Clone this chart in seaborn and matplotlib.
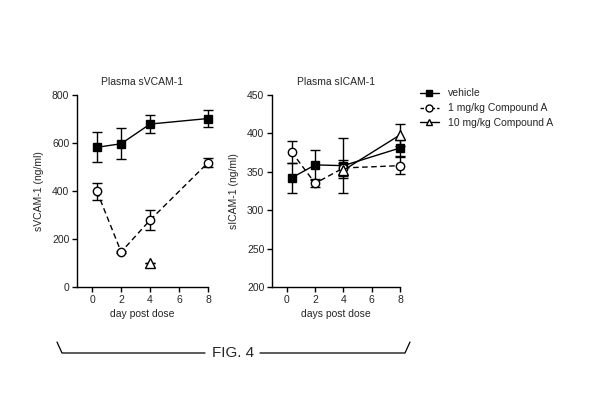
import numpy as np
import pandas as pd
import matplotlib
matplotlib.use("Agg")
import matplotlib.pyplot as plt
from matplotlib.lines import Line2D
import seaborn as sns

sns.set_theme(style="ticks")
plt.rcParams['font.family'] = ['Liberation Sans', 'DejaVu Sans']

days = [0.33, 2, 4, 8]
groups = ["vehicle", "1 mg/kg Compound A", "10 mg/kg Compound A"]

vcam_vehicle = [582, 597, 679, 702]
vcam_vehicle_err = [63, 65, 36, 35]
vcam_1mg = [398, 146, 279, 518]
vcam_1mg_err = [35, 5, 41, 18]
vcam_10mg = [np.nan, np.nan, 101, np.nan]
vcam_10mg_err = [0, 0, 0, 0]

icam_vehicle = [342, 359, 358, 381]
icam_vehicle_err = [20, 20, 36, 10]
icam_1mg = [376, 335, 355, 358]
icam_1mg_err = [14, 5, 10, 11]
icam_10mg = [np.nan, np.nan, 352, 398]
icam_10mg_err = [0, 0, 10, 14]

vcam_yticks = [0, 200, 400, 600, 800]
icam_yticks = [200, 250, 300, 350, 400, 450]
xticks = [0, 2, 4, 6, 8]

styles = {
    "vehicle": dict(marker="s", mfc="black", ls="-", dashes=None, ms=6),
    "1 mg/kg Compound A": dict(marker="o", mfc="white", ls="--", dashes=(4, 2.5), ms=6),
    "10 mg/kg Compound A": dict(marker="^", mfc="white", ls="-", dashes=None, ms=7),
}

W, H = 608, 413
fig = plt.figure(figsize=(W / 100, H / 100), dpi=100)
fig.patch.set_facecolor("white")

def px_axes(x0, y0, x1, y1):
    return fig.add_axes([x0 / W, 1 - y1 / H, (x1 - x0) / W, (y1 - y0) / H])

ax1 = px_axes(77, 95, 208, 287)
ax2 = px_axes(272, 95, 400, 287)

def draw(ax, series, ylim, yticks, title, xlabel, ylabel):
    rows = []
    for g, (vals, errs) in zip(groups, series):
        for d, v, e in zip(days, vals, errs):
            rows.append(dict(day=d, value=v, err=e, group=g))
    df = pd.DataFrame(rows)
    for g in groups:
        sub = df[df.group == g].dropna(subset=["value"])
        st = styles[g]
        ax.errorbar(sub.day, sub.value, yerr=sub.err, fmt="none", ecolor="black",
                    elinewidth=1.0, capsize=3.5, capthick=1.0, zorder=2, clip_on=False)
        sns.lineplot(data=sub, x="day", y="value", ax=ax, color="black", lw=1.0,
                     marker=st["marker"], markersize=st["ms"], markerfacecolor=st["mfc"],
                     markeredgecolor="black", markeredgewidth=1.0, zorder=3,
                     clip_on=False, legend=False, errorbar=None)
        if st["dashes"] is not None:
            ax.lines[-1].set_dashes(st["dashes"])
    ax.set_xlim(-1.05, 8)
    ax.set_ylim(*ylim)
    ax.set_xticks(xticks)
    ax.set_yticks(yticks)
    ax.set_title(title, fontsize=7.5, pad=7.5)
    ax.set_xlabel(xlabel, fontsize=7.5, labelpad=3)
    ax.set_ylabel(ylabel, fontsize=7.5, labelpad=6)
    ax.tick_params(labelsize=7.5, length=3.5, width=1.0, color="black", pad=2)
    for s in ["top", "right"]:
        ax.spines[s].set_visible(False)
    for s in ["left", "bottom"]:
        ax.spines[s].set_linewidth(1.0)
        ax.spines[s].set_color("black")
    ax.set_facecolor("white")

draw(ax1, [(vcam_vehicle, vcam_vehicle_err), (vcam_1mg, vcam_1mg_err), (vcam_10mg, vcam_10mg_err)],
     (0, 800), vcam_yticks, "Plasma sVCAM-1", "day post dose", "sVCAM-1 (ng/ml)")
draw(ax2, [(icam_vehicle, icam_vehicle_err), (icam_1mg, icam_1mg_err), (icam_10mg, icam_10mg_err)],
     (200, 450), icam_yticks, "Plasma sICAM-1", "days post dose", "sICAM-1 (ng/ml)")

handles = []
for g in groups:
    st = styles[g]
    h = Line2D([], [], color="black", lw=1.0, marker=st["marker"], markersize=5,
               markerfacecolor=st["mfc"], markeredgecolor="black", ls=st["ls"])
    if st["dashes"] is not None:
        h.set_dashes((2.5, 1.5))
    handles.append(h)
fig.legend(handles, groups, loc="upper left", bbox_to_anchor=(420 / W, 1 - 88.5 / H),
           frameon=False, fontsize=7.5, handlelength=1.8, handletextpad=0.9,
           labelspacing=0.45, borderaxespad=0, borderpad=0)

# FIG. 4 bracket
def fx(x): return x / W
def fy(y): return 1 - y / H
fig.add_artist(Line2D([fx(57), fx(62), fx(205)], [fy(342), fy(353), fy(353)], color="black", lw=0.9))
fig.add_artist(Line2D([fx(260), fx(405), fx(410)], [fy(353), fy(353), fy(342)], color="black", lw=0.9))
fig.text(fx(233), fy(353), "FIG. 4", fontsize=11, ha="center", va="center")

fig.savefig("out.png", dpi=100, facecolor="white")
